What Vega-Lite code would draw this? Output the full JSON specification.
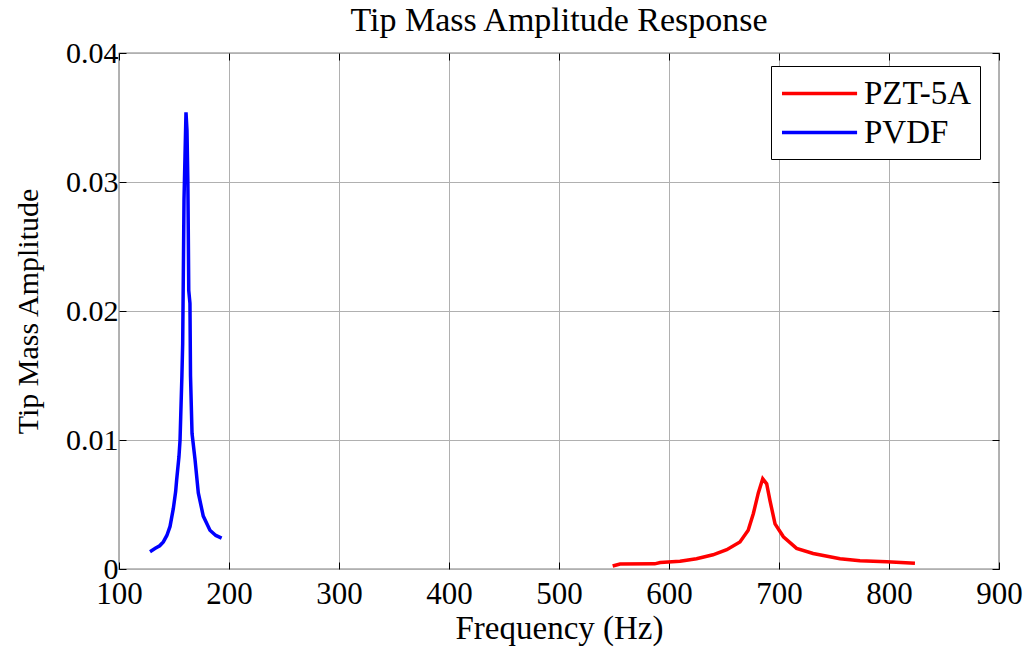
{
  "$schema": "https://vega.github.io/schema/vega-lite/v6.json",
  "width": 880,
  "height": 516,
  "autosize": "none",
  "padding": {"left": 119, "top": 53, "right": 30, "bottom": 79},
  "background": "white",
  "config": {
    "font": "Liberation Serif",
    "view": {"stroke": "black", "strokeWidth": 1.2},
    "axis": {
      "labelFont": "Liberation Serif",
      "titleFont": "Liberation Serif",
      "labelColor": "black",
      "titleColor": "black",
      "titleFontWeight": "normal",
      "domainColor": "black",
      "tickColor": "black",
      "gridColor": "#b0b0b0",
      "gridWidth": 1,
      "labelFlush": false,
      "labelOverlap": false
    }
  },
  "title": {
    "text": "Tip Mass Amplitude Response",
    "font": "Liberation Serif",
    "fontSize": 34,
    "fontWeight": "normal",
    "color": "black",
    "offset": 0
  },
  "datasets": {
    "curves": [
      {"f": 128.2, "amp": 0.00134, "material": "PVDF"},
      {"f": 133.0, "amp": 0.0016, "material": "PVDF"},
      {"f": 137.0, "amp": 0.0018, "material": "PVDF"},
      {"f": 140.3, "amp": 0.0021, "material": "PVDF"},
      {"f": 143.5, "amp": 0.0026, "material": "PVDF"},
      {"f": 146.4, "amp": 0.0033, "material": "PVDF"},
      {"f": 149.4, "amp": 0.0047, "material": "PVDF"},
      {"f": 151.5, "amp": 0.0060, "material": "PVDF"},
      {"f": 152.4, "amp": 0.0069, "material": "PVDF"},
      {"f": 154.5, "amp": 0.0087, "material": "PVDF"},
      {"f": 155.5, "amp": 0.0100, "material": "PVDF"},
      {"f": 156.1, "amp": 0.0118, "material": "PVDF"},
      {"f": 157.2, "amp": 0.0150, "material": "PVDF"},
      {"f": 157.9, "amp": 0.0175, "material": "PVDF"},
      {"f": 158.5, "amp": 0.0230, "material": "PVDF"},
      {"f": 159.1, "amp": 0.0286, "material": "PVDF"},
      {"f": 160.0, "amp": 0.0320, "material": "PVDF"},
      {"f": 160.9, "amp": 0.0354, "material": "PVDF"},
      {"f": 161.8, "amp": 0.0340, "material": "PVDF"},
      {"f": 162.6, "amp": 0.0300, "material": "PVDF"},
      {"f": 163.0, "amp": 0.0260, "material": "PVDF"},
      {"f": 163.4, "amp": 0.0216, "material": "PVDF"},
      {"f": 164.5, "amp": 0.0206, "material": "PVDF"},
      {"f": 165.0, "amp": 0.0150, "material": "PVDF"},
      {"f": 166.4, "amp": 0.0105, "material": "PVDF"},
      {"f": 169.1, "amp": 0.0085, "material": "PVDF"},
      {"f": 172.1, "amp": 0.0059, "material": "PVDF"},
      {"f": 176.6, "amp": 0.0041, "material": "PVDF"},
      {"f": 182.7, "amp": 0.0030, "material": "PVDF"},
      {"f": 188.0, "amp": 0.0026, "material": "PVDF"},
      {"f": 193.3, "amp": 0.0024, "material": "PVDF"},
      {"f": 548.8, "amp": 0.00023, "material": "PZT-5A"},
      {"f": 555.5, "amp": 0.00039, "material": "PZT-5A"},
      {"f": 587.0, "amp": 0.00040, "material": "PZT-5A"},
      {"f": 592.0, "amp": 0.00050, "material": "PZT-5A"},
      {"f": 610.0, "amp": 0.00060, "material": "PZT-5A"},
      {"f": 625.0, "amp": 0.00080, "material": "PZT-5A"},
      {"f": 640.0, "amp": 0.00110, "material": "PZT-5A"},
      {"f": 652.5, "amp": 0.00150, "material": "PZT-5A"},
      {"f": 664.5, "amp": 0.00210, "material": "PZT-5A"},
      {"f": 672.0, "amp": 0.00300, "material": "PZT-5A"},
      {"f": 676.7, "amp": 0.00430, "material": "PZT-5A"},
      {"f": 681.2, "amp": 0.00590, "material": "PZT-5A"},
      {"f": 685.2, "amp": 0.00700, "material": "PZT-5A"},
      {"f": 688.8, "amp": 0.00660, "material": "PZT-5A"},
      {"f": 691.8, "amp": 0.00530, "material": "PZT-5A"},
      {"f": 696.4, "amp": 0.00350, "material": "PZT-5A"},
      {"f": 704.0, "amp": 0.00250, "material": "PZT-5A"},
      {"f": 716.0, "amp": 0.00160, "material": "PZT-5A"},
      {"f": 731.0, "amp": 0.00120, "material": "PZT-5A"},
      {"f": 755.5, "amp": 0.00080, "material": "PZT-5A"},
      {"f": 773.6, "amp": 0.00064, "material": "PZT-5A"},
      {"f": 797.9, "amp": 0.00057, "material": "PZT-5A"},
      {"f": 823.6, "amp": 0.00044, "material": "PZT-5A"}
    ]
  },
  "data": {"name": "curves"},
  "layer": [
    {
      "mark": {"type": "line", "strokeWidth": 3.5, "clip": true},
      "encoding": {
        "x": {
          "field": "f",
          "type": "quantitative",
          "scale": {"domain": [100, 900], "nice": false},
          "axis": {
            "title": "Frequency (Hz)",
            "titleFontSize": 33,
            "labelFontSize": 31,
            "values": [100, 200, 300, 400, 500, 600, 700, 800, 900],
            "grid": true,
            "tickSize": -7,
            "labelPadding": 17,
            "titlePadding": 3,
            "domain": false
          }
        },
        "y": {
          "field": "amp",
          "type": "quantitative",
          "scale": {"domain": [0, 0.04], "nice": false},
          "axis": {
            "title": "Tip Mass Amplitude",
            "titleFontSize": 30,
            "labelFontSize": 30,
            "values": [0, 0.01, 0.02, 0.03, 0.04],
            "format": "~g",
            "grid": true,
            "tickSize": -7,
            "labelPadding": 8,
            "titlePadding": 22,
            "domain": false
          }
        },
        "color": {
          "field": "material",
          "type": "nominal",
          "scale": {"domain": ["PZT-5A", "PVDF"], "range": ["#ff0000", "#0000ff"]},
          "legend": {
            "title": null,
            "orient": "none",
            "legendX": 652,
            "legendY": 13,
            "symbolType": "M-1,0H3.55",
            "symbolSize": 1089,
            "symbolStrokeWidth": 3.5,
            "labelFontSize": 33,
            "labelFont": "Liberation Serif",
            "labelColor": "black",
            "rowPadding": 3,
            "strokeColor": "black",
            "fillColor": "white",
            "padding": 9,
            "labelOffset": 47,
            "labelLimit": 300
          }
        }
      }
    },
    {
      "mark": {"type": "point", "opacity": 0},
      "encoding": {
        "x": {
          "field": "f",
          "type": "quantitative",
          "axis": {"orient": "top", "labels": false, "title": null, "grid": false, "tickSize": -7, "domain": false, "values": [100, 200, 300, 400, 500, 600, 700, 800, 900]}
        },
        "y": {
          "field": "amp",
          "type": "quantitative",
          "axis": {"orient": "right", "labels": false, "title": null, "grid": false, "tickSize": -7, "domain": false, "values": [0, 0.01, 0.02, 0.03, 0.04]}
        }
      }
    }
  ],
  "resolve": {"axis": {"x": "independent", "y": "independent"}}
}
